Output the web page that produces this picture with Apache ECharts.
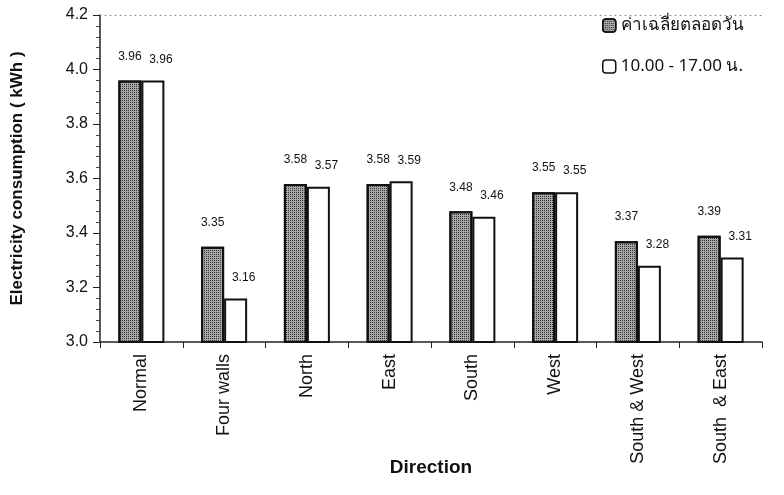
<!DOCTYPE html>
<html><head><meta charset="utf-8">
<script src="https://cdn.jsdelivr.net/npm/echarts@6/dist/echarts.min.js"></script>
<style>html,body{margin:0;padding:0;background:#fff}#c{width:784px;height:495px}</style>
</head><body><div id="c"></div>
<script>
const categories = ['Normal','Four walls','North','East','South','West','South & West','South  & East'];
const avgAllDay = [3.96,3.35,3.58,3.58,3.48,3.55,3.37,3.39];
const daytime = [3.96,3.16,3.57,3.59,3.46,3.55,3.28,3.31];
const seriesNames = ['ค่าเฉลี่ยตลอดวัน','10.00 - 17.00 น.'];
const yTicks = {min:3.0,max:4.2,interval:0.2};

const chart = echarts.init(document.getElementById('c'), null, {renderer:'canvas'});
const ff = 'Liberation Sans, Arial, sans-serif';
const mkLbl = (dx,dist)=>({show:true,position:'top',fontSize:12,color:'#111',fontFamily:ff,distance:dist,offset:[dx,0],formatter:p=>p.value.toFixed(2)});
const decal = {symbol:'rect',symbolSize:1,dashArrayX:[1,1],dashArrayY:[1,1],color:'rgba(20,20,20,0.8)',rotation:0};
chart.setOption({
  animation:false,
  backgroundColor:'#fff',
  grid:{left:100,right:22,top:15,bottom:153},
  legend:{
    orient:'vertical',left:597,top:12,itemGap:24,itemWidth:13,itemHeight:13,
    textStyle:{fontSize:17,color:'#111',fontFamily:'Noto Sans, DejaVu Sans, sans-serif'},
    data:[
      {name:seriesNames[0],itemStyle:{color:'#a8a8a8',borderColor:'#111',borderWidth:1.5,decal:decal}},
      {name:seriesNames[1],itemStyle:{color:'#fff',borderColor:'#111',borderWidth:1.5}}
    ]
  },
  xAxis:[{
    type:'category',data:categories,
    axisLine:{lineStyle:{color:'#222',width:1.5}},
    axisTick:{show:true,length:6,lineStyle:{color:'#222'}},
    axisLabel:{rotate:90,fontSize:18,color:'#111',fontFamily:ff,margin:12},
    name:'Direction',nameLocation:'middle',nameGap:116,nameMoveOverlap:false,
    nameTextStyle:{fontSize:19,fontWeight:'bold',color:'#111',fontFamily:ff}
  },{
    type:'category',data:categories,position:'top',
    axisLine:{show:true,lineStyle:{color:'#888',type:[1,4],width:1}},
    axisTick:{show:false},axisLabel:{show:false}
  }],
  yAxis:{
    type:'value',min:yTicks.min,max:yTicks.max,interval:yTicks.interval,
    axisLine:{show:true,lineStyle:{color:'#222',width:1.5}},
    axisTick:{show:true,length:7,inside:false,lineStyle:{color:'#222'}},
    minorTick:{show:true,splitNumber:5,length:4,lineStyle:{color:'#444'}},
    splitLine:{show:false},
    axisLabel:{fontSize:16,color:'#111',fontFamily:ff,margin:12,formatter:v=>v.toFixed(1)},
    name:'Electricity consumption ( kWh )',nameLocation:'middle',nameGap:74,nameMoveOverlap:false,
    nameTextStyle:{fontSize:17,fontWeight:'bold',color:'#111',fontFamily:ff}
  },
  series:[
    {name:seriesNames[0],type:'bar',data:avgAllDay,barWidth:23,barGap:'0%',
     itemStyle:{color:'#a8a8a8',borderColor:'#111',borderWidth:2,decal:decal},
     label:mkLbl(0,18)},
    {name:seriesNames[1],type:'bar',data:daytime,barWidth:23,
     itemStyle:{color:'#fff',borderColor:'#111',borderWidth:2},
     label:mkLbl(8,15)}
  ]
});
</script></body></html>
